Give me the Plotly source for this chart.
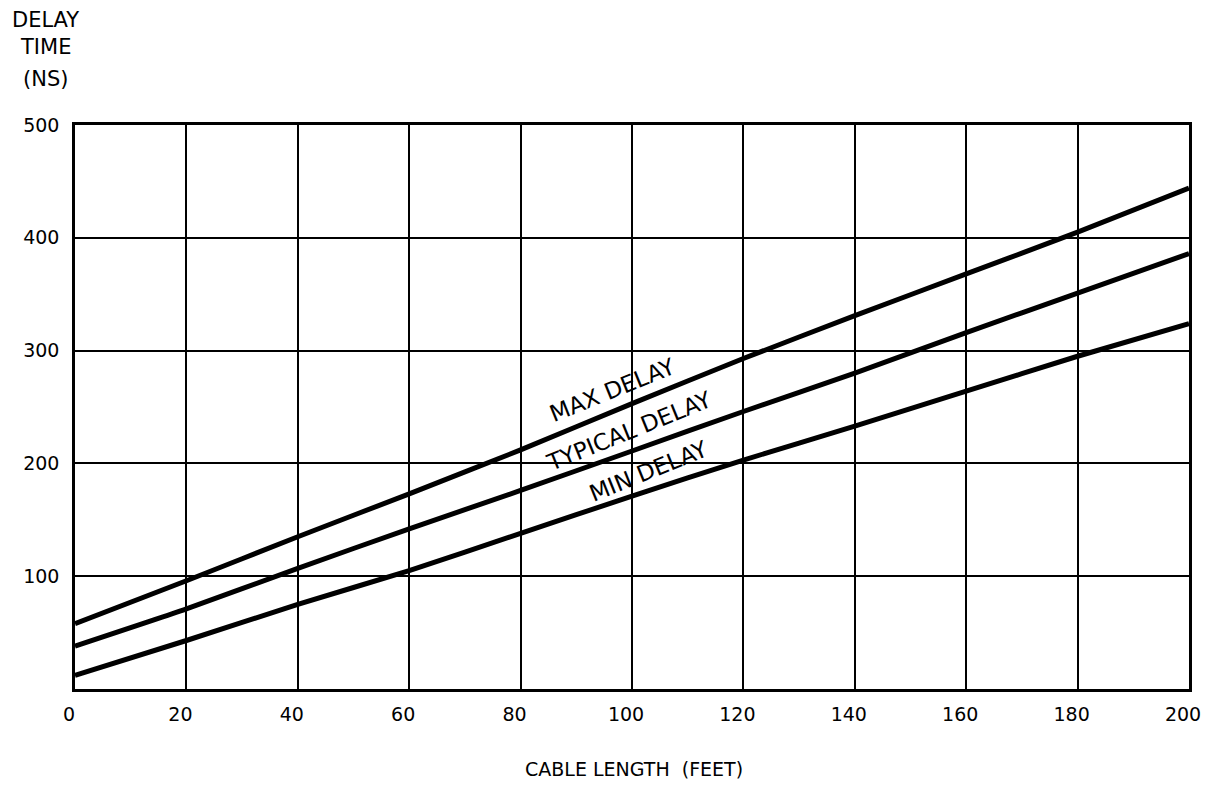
import plotly.graph_objects as go

cable_length = [0, 20, 40, 60, 80, 100, 120, 140, 160, 180, 200]
max_delay = [58, 96, 135, 173, 212, 253, 293, 331, 368, 405, 444]
typical_delay = [38, 71, 107, 142, 176, 211, 246, 280, 316, 351, 386]
min_delay = [12, 43, 75, 105, 138, 171, 203, 233, 264, 295, 324]

x_ticks = [0, 20, 40, 60, 80, 100, 120, 140, 160, 180, 200]
y_ticks = [100, 200, 300, 400, 500]

curve_labels = ["MAX DELAY", "TYPICAL DELAY", "MIN DELAY"]
label_x = [96.5, 99.5, 103.0]
label_y = [265, 229, 193]

FONT = "'DejaVu Sans', sans-serif"

# page geometry (browser body margin of 8px shifts the figure)
OFF = 8
W, H = 1205, 775
PL, PT, PR, PB = 75, 125, 1199, 689   # plot area in page pixels
L, T = PL - OFF, PT - OFF
R = W - (PR - OFF)
B = H - (PB - OFF)
pw, ph = PR - PL, PB - PT


def px_to_paper(px, py):
    return (px - PL) / pw, (PB - py) / ph


fig = go.Figure()
for ys, name in zip([max_delay, typical_delay, min_delay], curve_labels):
    fig.add_trace(go.Scatter(x=cable_length, y=ys, mode="lines", name=name,
                             line=dict(color="black", width=5, shape="spline", smoothing=0.5),
                             showlegend=False, hoverinfo="x+y"))

for t, lx, ly in zip(curve_labels, label_x, label_y):
    fig.add_annotation(x=lx, y=ly, xref="x", yref="y", text=t, showarrow=False,
                       textangle=-22, font=dict(family=FONT, size=23, color="black"))

for line, py in zip(["DELAY", "TIME", "(NS)"], [20, 47, 79]):
    ax, ay = px_to_paper(45, py)
    fig.add_annotation(x=ax, y=ay, xref="paper", yref="paper", text=line,
                       showarrow=False, xanchor="center", yanchor="middle",
                       font=dict(family=FONT, size=21, color="black"))

tx, ty = px_to_paper(639, 782)
fig.add_annotation(text="CABLE LENGTH  (FEET)", xref="paper", yref="paper",
                   x=tx, y=ty, showarrow=False, xanchor="center", yanchor="bottom",
                   font=dict(family=FONT, size=19, color="black"))

fig.update_layout(
    width=W, height=H,
    margin=dict(l=L, r=R, t=T, b=B, pad=0),
    plot_bgcolor="white", paper_bgcolor="white",
    font=dict(family=FONT, size=19, color="black"),
    xaxis=dict(range=[0, 200], tickvals=x_ticks, showgrid=True, gridcolor="black",
               gridwidth=1.5, showline=True, linecolor="black", linewidth=2.5, mirror=True,
               ticks="outside", ticklen=6, tickcolor="rgba(0,0,0,0)", zeroline=False,
               ticklabelshift=-6, ticklabeloverflow="allow",
               tickfont=dict(family=FONT, size=19)),
    yaxis=dict(range=[0, 500], tickvals=[0] + y_ticks, ticktext=[""] + [str(v) for v in y_ticks],
               showgrid=True, gridcolor="black", gridwidth=1.5, showline=True, linecolor="black",
               linewidth=2.5, mirror=True, ticks="outside", ticklen=9,
               tickcolor="rgba(0,0,0,0)", zeroline=False, tickfont=dict(family=FONT, size=19)),
)

fig.write_html("out.html")
